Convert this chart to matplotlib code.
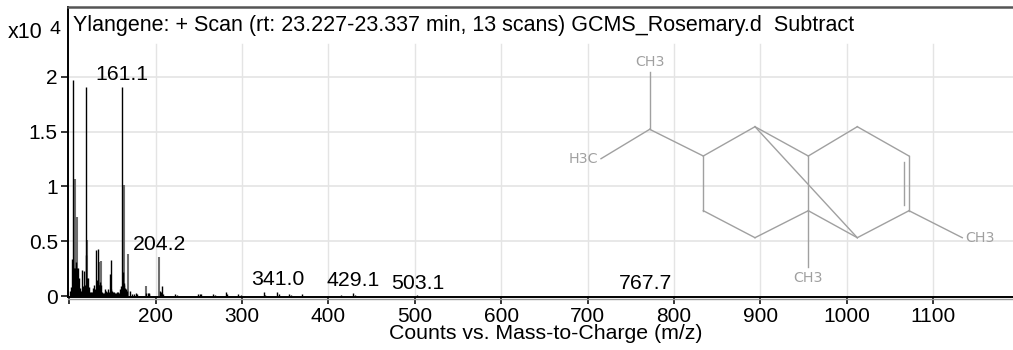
import matplotlib
matplotlib.use('Agg')
import matplotlib.pyplot as plt

plt.rcParams['font.family'] = ['Liberation Sans', 'DejaVu Sans']

# thin dark peaks, x10^4 counts
mz_dark = [101, 102, 103, 104, 105, 106, 107, 108, 109, 110, 111, 112, 113, 114, 115, 116, 117, 118, 119, 120, 121,
           122, 123, 124, 125, 126, 127, 128, 129, 130, 131, 132, 133, 134, 135, 136, 137, 138, 139, 140, 141,
           142, 143, 144, 145, 146, 147, 148, 149, 150, 151, 152, 153, 154, 155, 156, 157, 158, 159, 160,
           161, 162, 163, 164, 165, 166, 167, 171, 173, 175, 177, 179, 189, 191, 192, 193, 205, 206, 207,
           209, 222, 225, 249, 251, 253, 266, 269, 281, 283, 296, 299, 325, 327, 341, 343, 355, 357,
           369, 415, 429, 431, 503, 767]
int_dark = [0.05, 0.08, 0.34, 0.26, 1.97, 0.26, 0.26, 0.31, 0.26, 0.26, 0.16, 0.07, 0.05, 0.05, 0.24, 0.09, 0.23, 0.10, 1.91, 0.37, 0.16,
            0.16, 0.08, 0.04, 0.04, 0.03, 0.04, 0.07, 0.10, 0.06, 0.42, 0.15, 0.43, 0.10, 0.10, 0.13, 0.10, 0.04, 0.03, 0.03, 0.06,
            0.04, 0.05, 0.04, 0.06, 0.04, 0.20, 0.06, 0.33, 0.05, 0.04, 0.04, 0.03, 0.03, 0.04, 0.03, 0.04, 0.03, 0.06, 0.09,
            1.91, 0.22, 0.10, 0.12, 0.07, 0.06, 0.05, 0.05, 0.02, 0.02, 0.03, 0.015, 0.03, 0.03, 0.02, 0.03, 0.05, 0.04, 0.09,
            0.02, 0.015, 0.01, 0.02, 0.015, 0.02, 0.02, 0.012, 0.04, 0.015, 0.02, 0.01, 0.035, 0.012, 0.04, 0.015, 0.02, 0.008,
            0.015, 0.01, 0.03, 0.012, 0.005, 0.002]

# wider grey looking peaks
mz_grey = [107, 109, 121, 135, 137, 163, 168, 189, 204]
int_grey = [1.07, 0.72, 0.51, 0.31, 0.32, 1.01, 0.38, 0.09, 0.36]

# labelled peaks
label_mz = [161.1, 204.2, 341.0, 429.1, 503.1, 767.7]
label_int = [1.91, 0.36, 0.04, 0.03, 0.005, 0.002]

x_ticks = [100, 200, 300, 400, 500, 600, 700, 800, 900, 1000, 1100]
x_labels = ['', '200', '300', '400', '500', '600', '700', '800', '900', '1000', '1100']
y_ticks = [0, 0.5, 1, 1.5, 2]
y_labels = ['0', '0.5', '1', '1.5', '2']

# structure drawing, in image pixels
atoms = {'A': (649.7, 129.3), 'top': (649.7, 72.3), 'left': (601, 158.7), 'B': (703.3, 156),
         'C': (703.3, 210.7), 'D': (755, 237.7), 'E': (808.3, 210.7), 'F': (808.3, 156),
         'G': (755, 126.7), 'H': (857.3, 126.7), 'I': (909, 156), 'J': (909, 210.7),
         'K': (857.3, 237.7), 'low': (808.3, 266.7), 'right': (962.3, 237.7),
         'i1': (904, 161.7), 'i2': (904, 205)}
bonds = [('A', 'top'), ('A', 'left'), ('A', 'B'), ('B', 'G'), ('B', 'C'), ('C', 'D'), ('D', 'E'),
         ('E', 'F'), ('F', 'G'), ('F', 'H'), ('H', 'I'), ('I', 'J'), ('J', 'K'), ('K', 'E'),
         ('G', 'K'), ('E', 'low'), ('J', 'right'), ('i1', 'i2')]
atom_labels = [('CH3', 649.7, 62), ('H3C', 583.5, 158.7), ('CH3', 808.3, 277.5), ('CH3', 980, 237.7)]

fig = plt.figure(figsize=(10.13, 3.5), dpi=100)
ax = fig.add_axes([67.5 / 1013, 1 - 297 / 350, (1013 - 67.5) / 1013, 290 / 350])
ax.set_xlim(98.1, 1192.5)
ax.set_ylim(-0.009, 2.639)

grid_c = '#e4e4e4'
for v in x_ticks[1:]:
    ax.plot([v, v], [-0.009, 2.3], color=grid_c, lw=1.0, zorder=1)
for v in y_ticks[1:]:
    ax.axhline(v, color=grid_c, lw=1.2, zorder=1)

ax.vlines(mz_grey, 0, int_grey, color='#6e6e6e', lw=1.5, zorder=2)
ax.vlines(mz_dark, 0, int_dark, color='black', lw=1.0, zorder=3)

for m, h in zip(label_mz, label_int):
    ax.annotate('%.1f' % m, (m, h), xytext=(0, 4.7), textcoords='offset points',
                ha='center', va='baseline', fontsize=15.3, color='black')

ax.set_xticks(x_ticks)
ax.set_xticklabels(x_labels, fontsize=15)
ax.set_yticks(y_ticks)
ax.set_yticklabels(y_labels, fontsize=15)
ax.tick_params(axis='both', length=5, width=1.1, pad=2, colors='black')

ax.spines['right'].set_visible(False)
ax.spines['left'].set_linewidth(1.4)
ax.spines['bottom'].set_linewidth(1.4)
ax.spines['top'].set_linewidth(1.8)
ax.spines['top'].set_color('#555555')

# overlay in pixels for the header text and the structure
ov = fig.add_axes([0, 0, 1, 1], facecolor='none')
ov.set_xlim(0, 1013)
ov.set_ylim(350, 0)
ov.axis('off')

ov.plot([67.5, 1013], [298.8, 298.8], color='#999999', lw=1.0)

for a, b in bonds:
    ov.plot([atoms[a][0], atoms[b][0]], [atoms[a][1], atoms[b][1]], color='#a0a0a0', lw=1.0)
for txt, x, y in atom_labels:
    ov.text(x, y, txt, color='#a0a0a0', fontsize=10.3, ha='center', va='center', family='DejaVu Sans')

ov.text(73, 25.5, 'Ylangene: + Scan (rt: 23.227-23.337 min, 13 scans) GCMS_Rosemary.d  Subtract',
        fontsize=15.5, ha='left', va='center')
ov.text(8, 33, 'x10', fontsize=15.5, ha='left', va='center')
ov.text(49, 29, '4', fontsize=14, ha='left', va='center')
ov.text(545.5, 333.5, 'Counts vs. Mass-to-Charge (m/z)', fontsize=15.3, ha='center', va='center')

fig.savefig('out.png', dpi=100)
